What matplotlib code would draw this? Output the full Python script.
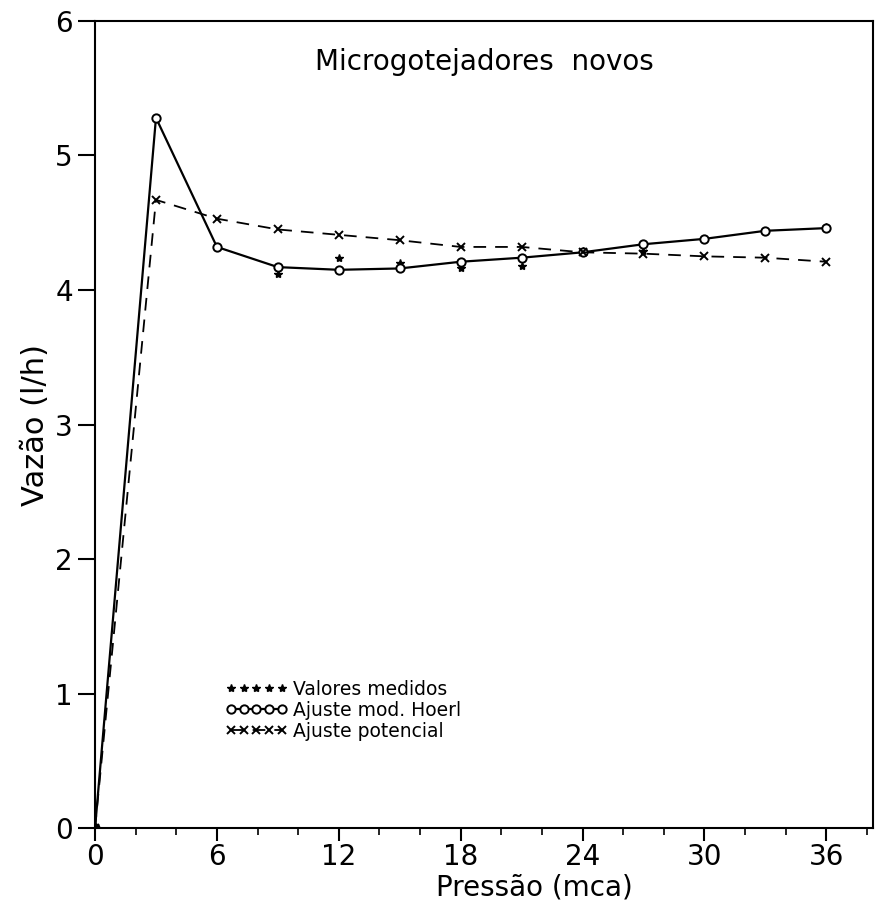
import numpy as np
import matplotlib
matplotlib.use('Agg')
import matplotlib.pyplot as plt
from matplotlib.ticker import MultipleLocator

# Dados
pressao = [0, 3, 6, 9, 12, 15, 18, 21, 24, 27, 30, 33, 36]
vazao_medida = [0, 5.28, 4.32, 4.12, 4.24, 4.20, 4.16, 4.18, 4.29, 4.29, 4.38, 4.44, 4.47]
vazao_hoerl = [0, 5.28, 4.32, 4.17, 4.15, 4.16, 4.21, 4.24, 4.28, 4.34, 4.38, 4.44, 4.46]
vazao_potencial = [0, 4.67, 4.53, 4.45, 4.41, 4.37, 4.32, 4.32, 4.28, 4.27, 4.25, 4.24, 4.21]

x_ticks = [0, 6, 12, 18, 24, 30, 36]
y_ticks = [0, 1, 2, 3, 4, 5, 6]

fig = plt.figure(figsize=(8.8, 9.1), dpi=100)
ax = fig.add_axes([0.108, 0.090, 0.884, 0.887])

ax.plot(pressao, vazao_medida, linestyle='none', marker='*', color='k',
        markersize=6, label='Valores medidos')
ax.plot(pressao, vazao_hoerl, '-', color='k', lw=1.6, marker='o',
        markersize=6, markerfacecolor='white', markeredgewidth=1.4,
        label='Ajuste mod. Hoerl')
ax.plot(pressao, vazao_potencial, color='k', lw=1.3, dashes=(7, 5),
        marker='x', markersize=6, markeredgewidth=1.4, label='Ajuste potencial')
ax.plot([0], [0], 'ko', markersize=6)

ax.set_xlim(0, 38.3)
ax.set_ylim(0, 6)
ax.set_xticks(x_ticks)
ax.set_yticks(y_ticks)
ax.xaxis.set_minor_locator(MultipleLocator(2))

for s in ax.spines.values():
    s.set_linewidth(1.5)

ax.tick_params(axis='both', which='major', direction='out', length=9, width=1.5,
               labelsize=20)
ax.tick_params(axis='x', which='minor', direction='out', length=5, width=1.2)
ax.tick_params(axis='x', which='major', pad=2)
ax.tick_params(axis='y', which='major', length=12, pad=4)

ax.set_xlabel('Pressão (mca)', fontsize=20)
ax.xaxis.set_label_coords(0.565, -0.056)
ax.set_ylabel('Vazão (l/h)', fontsize=22, labelpad=4)

ax.text(0.50, 0.949, 'Microgotejadores  novos', transform=ax.transAxes,
        ha='center', va='center', fontsize=20)

ax.legend(loc='upper left', bbox_to_anchor=(0.158, 0.193), frameon=False,
          numpoints=5, handlelength=3.3, handletextpad=0.3, labelspacing=0.1,
          fontsize=13.5, borderaxespad=0)

fig.savefig('out.png', dpi=100)
